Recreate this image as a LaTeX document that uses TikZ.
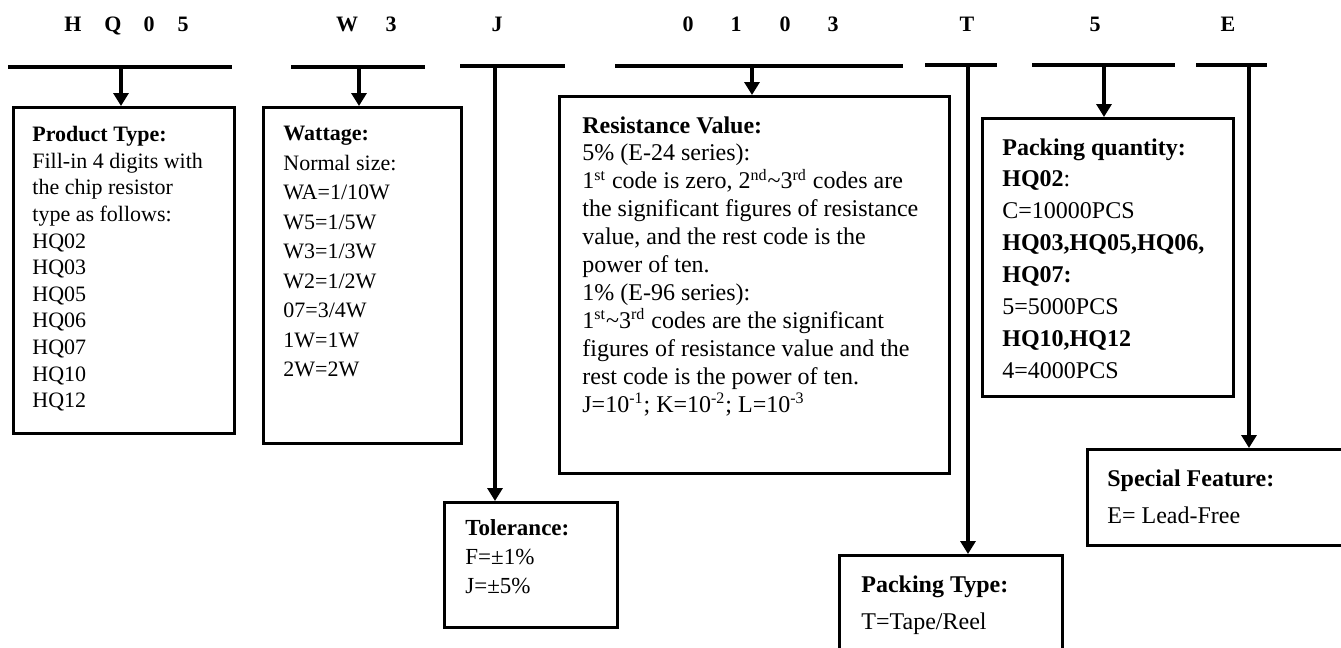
\documentclass[tikz,border=0pt]{standalone}
\usepackage{fontspec}
\setmainfont{Liberation Serif}
\usetikzlibrary{arrows.meta}
\tikzset{
    bar/.style={line width=2pt},
    conn/.style={line width=1.65pt,-{Triangle[width=7.5pt,length=6.5pt]}},
    box/.style={draw,line width=1.65pt,inner sep=0pt,anchor=north west},
    txt/.style={inner sep=0pt,anchor=north west,align=left},
}
\begin{document}
\begin{tikzpicture}[x=0.5pt,y=-0.5pt]
                \useasboundingbox (0,0) rectangle (1341,648);
                \foreach \x/\c [count=\i] in {73/H,113/Q,149/0,183/5,347/W,391/3,497/J,688/0,736/1,785/0,833/3,967/T,1095/5,1228/E}
                    \node[font=\fontsize{11}{13}\selectfont\bfseries,anchor=base] (hd\i) at (\x,32) {\c};

                \draw[bar] (8,67) -- (232,67);
                \draw[bar] (291,67) -- (425,67);
                \draw[bar] (460,66) -- (565,66);
                \draw[bar] (615,66) -- (903,66);
                \draw[bar] (925,65) -- (997,65);
                \draw[bar] (1032,65) -- (1175,65);
                \draw[bar] (1196,65) -- (1267,65);

                \coordinate (cptype) at (121,67);
                \coordinate (cwatt) at (359,67);
                \coordinate (ctol) at (495,66);
                \coordinate (cresv) at (752,66);
                \coordinate (cptyp) at (968,65);
                \coordinate (cpqty) at (1104,65);
                \coordinate (cspec) at (1249,65);

                \node[box,minimum width=110.5pt,minimum height=163pt] (ptype) at (12,106) {};
                \node[box,minimum width=99pt,minimum height=168pt] (watt) at (262,106) {};
                \node[box,minimum width=195pt,minimum height=188.5pt] (resv) at (558,95) {};
                \node[box,minimum width=86.5pt,minimum height=62.5pt] (tol) at (443,501) {};
                \node[box,minimum width=125.5pt,minimum height=139pt] (pqty) at (981,117) {};
                \node[box,minimum width=111.5pt,minimum height=58pt] (ptyp) at (838,554) {};
                \node[box,minimum width=142pt,minimum height=48pt] (spec) at (1086,448) {};

                \node[txt,font=\fontsize{11}{13.3}\selectfont] (ptypetxt) at (32,126) {\textbf{Product Type:}\\Fill-in 4 digits with\\the chip resistor\\type as follows:\\HQ02\\HQ03\\HQ05\\HQ06\\HQ07\\HQ10\\HQ12};
                \node[txt,font=\fontsize{11}{14.75}\selectfont] (watttxt) at (283,126) {\textbf{Wattage:}\\Normal size:\\WA=1/10W\\W5=1/5W\\W3=1/3W\\W2=1/2W\\07=3/4W\\1W=1W\\2W=2W};
                \node[txt,font=\fontsize{12}{13.95}\selectfont] (resvtxt) at (582,116) {\textbf{Resistance Value:}\\5\% (E-24 series):\\1\textsuperscript{st} code is zero, 2\textsuperscript{nd}\textasciitilde3\textsuperscript{rd} codes are\\the significant figures of resistance\\value, and the rest code is the\\power of ten.\\1\% (E-96 series):\\1\textsuperscript{st}\textasciitilde3\textsuperscript{rd} codes are the significant\\figures of resistance value and the\\rest code is the power of ten.\\J=10\textsuperscript{-1}; K=10\textsuperscript{-2}; L=10\textsuperscript{-3}};
                \node[txt,font=\fontsize{11.5}{14.5}\selectfont] (toltxt) at (465,519) {\textbf{Tolerance:}\\F=±1\%\\J=±5\%};
                \node[txt,font=\fontsize{12}{15.95}\selectfont] (pqtytxt) at (1002,138) {\textbf{Packing quantity:}\\\textbf{HQ02}:\\C=10000PCS\\\textbf{HQ03,HQ05,HQ06,}\\\textbf{HQ07:}\\5=5000PCS\\\textbf{HQ10,HQ12}\\4=4000PCS};
                \node[txt,font=\fontsize{12}{18.5}\selectfont] (ptyptxt) at (861,575) {\textbf{Packing Type:}\\T=Tape/Reel};
                \node[txt,font=\fontsize{12}{18.5}\selectfont] (spectxt) at (1107,469) {\textbf{Special Feature:}\\E= Lead-Free};

                \draw[conn] (cptype) -- (cptype |- ptype.north);
                \draw[conn] (cwatt) -- (cwatt |- watt.north);
                \draw[conn] (ctol) -- (ctol |- tol.north);
                \draw[conn] (cresv) -- (cresv |- resv.north);
                \draw[conn] (cptyp) -- (cptyp |- ptyp.north);
                \draw[conn] (cpqty) -- (cpqty |- pqty.north);
                \draw[conn] (cspec) -- (cspec |- spec.north);
\end{tikzpicture}
\end{document}
